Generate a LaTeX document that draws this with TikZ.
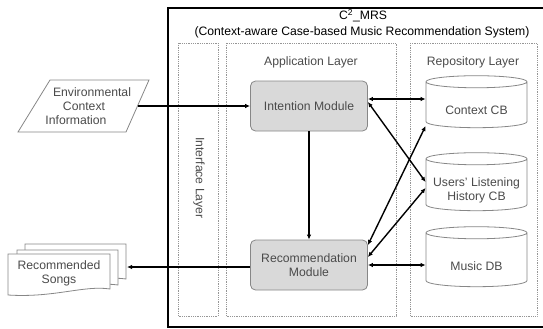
\documentclass[tikz,border=0pt]{standalone}
\usepackage{fontspec}
\setmainfont{Liberation Sans}
\usetikzlibrary{arrows.meta, positioning, shapes.geometric}
\definecolor{txtgray}{RGB}{75,75,75}
\definecolor{modfill}{RGB}{217,217,217}
\definecolor{modline}{RGB}{135,135,135}
\definecolor{dotline}{RGB}{150,150,150}

\begin{document}
\begin{tikzpicture}[
    x=1pt, y=-1pt,
    font=\fontsize{12.2}{14}\selectfont,
    every node/.style={text=txtgray},
    layer/.style={draw=dotline, densely dotted, line width=0.8pt},
    module/.style={draw=modline, fill=modfill, rounded corners=5pt, minimum width=117pt, minimum height=50pt, align=center, line width=0.8pt},
    db/.style={cylinder, shape border rotate=90, aspect=0.12, draw=modline, fill=white, text width=94pt, minimum width=101pt, line width=0.8pt},
    doc/.style={draw=modline, fill=white, line width=0.8pt},
    arr/.style={-{Latex[length=5pt,width=4.5pt]}, line width=1.4pt},
    darr/.style={{Latex[length=5pt,width=4.5pt]}-{Latex[length=5pt,width=4.5pt]}, line width=1.4pt},
  ]
    \useasboundingbox (0,0) rectangle (543,329);

    % system frame and layers
    \draw[line width=1.6pt] (168,8) rectangle (560,327);
    \draw[layer] (178,43) rectangle (218,316);
    \draw[layer] (226,43) rectangle (396,316);
    \draw[layer] (410,43) rectangle (537,316);

    \node[text=black] (title) at (363,16) {C\textsuperscript{2}\_MRS};
    \node[text=black] (subtitle) at (362,32) {(Context-aware Case-based Music Recommendation System)};
    \node[rotate=-90] (iflabel) at (199,178) {Interface Layer};
    \node (applabel) at (311,62) {Application Layer};
    \node (replabel) at (473,62) {Repository Layer};

    % application layer
    \node[module] (intention) at (309,106) {Intention Module};
    \node[module] (recom) at (309,265) {Recommendation\\Module};

    % repository layer
    \node[db, minimum height=52pt] (ctxcb) at (476.5,106) {};
    \node[db, minimum height=58pt] (histcb) at (476.5,186) {};
    \node[db, minimum height=60pt] (musicdb) at (476.5,261) {};
    \node (ctxtxt) at ([yshift=-4pt]ctxcb.center) {Context CB};
    \node[align=center] (histtxt) at ([yshift=-4.5pt]histcb.center) {Users' Listening\\History CB};
    \node (musictxt) at ([yshift=-5pt]musicdb.center) {Music DB};

    % input and output
    \draw[doc] (50,80) -- (149,80) -- (126,132) -- (18,132) -- cycle;
    \node[align=center, inner sep=0pt] (env) at (84,106) {\hspace*{16pt}Environmental\\Context\\Information\hspace*{16pt}};
    \coordinate (envout) at (137.5,106);

    \draw[doc] (25,244) -- (126,244) -- (126,279) .. controls (100,275) and (70,288) .. (25,282) -- cycle;
    \draw[doc] (17,250) -- (118,250) -- (118,285) .. controls (92,281) and (62,294) .. (17,288) -- cycle;
    \draw[doc] (8,254) -- (110,254) -- (110,289) .. controls (84,285) and (54,298) .. (8,295) -- cycle;
    \node[align=center, inner sep=0pt] (songs) at (59,273) {Recommended\\Songs};
    \coordinate (songsin) at (127,267);

    % connectors
    \draw[arr] (envout) -- (intention.west |- envout);
    \draw[arr] (intention) -- (recom);
    \draw[arr] (recom.west |- songsin) -- (songsin);
    \draw[darr] ([yshift=7pt]intention.east) -- ([yshift=7pt]intention.east -| ctxcb.west);
    \draw[darr] ([yshift=4pt]intention.east) -- ([yshift=4pt]histcb.west);
    \draw[darr] ([yshift=-20pt]ctxcb.west) -- ([yshift=20pt]recom.east);
    \draw[darr] ([yshift=-2pt]histcb.west) -- ([yshift=8pt]recom.east);
    \draw[darr] (recom.east) -- (recom.east -| musicdb.west);
\end{tikzpicture}
\end{document}
